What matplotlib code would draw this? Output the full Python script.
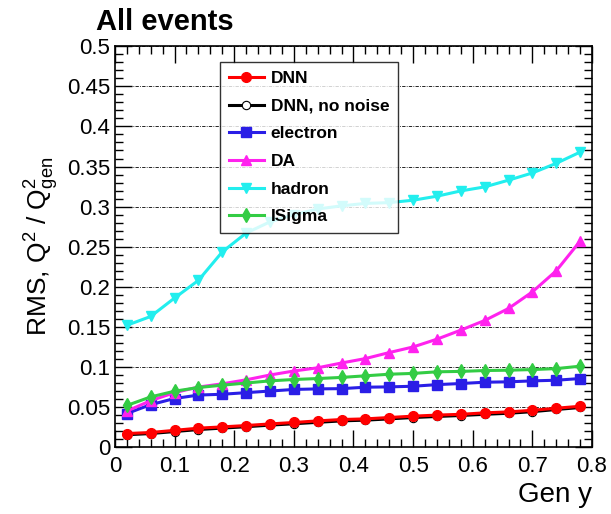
import numpy as np
import matplotlib.pyplot as plt
from matplotlib.ticker import MultipleLocator

plt.rcParams['font.family'] = ['Liberation Sans', 'DejaVu Sans']
plt.rcParams['mathtext.fontset'] = 'custom'
plt.rcParams['mathtext.rm'] = 'Liberation Sans'
plt.rcParams['mathtext.it'] = 'Liberation Sans'

gen_y = [0.02, 0.06, 0.10, 0.14, 0.18, 0.22, 0.26, 0.30, 0.34, 0.38,
         0.42, 0.46, 0.50, 0.54, 0.58, 0.62, 0.66, 0.70, 0.74, 0.78]

dnn = [0.017, 0.0183, 0.021, 0.0237, 0.0253, 0.027, 0.029, 0.0308, 0.0328, 0.0345,
       0.0353, 0.037, 0.0387, 0.040, 0.041, 0.0428, 0.044, 0.046, 0.0486, 0.051]
dnn_no_noise = [0.0155, 0.017, 0.0195, 0.022, 0.0238, 0.0255, 0.0275, 0.0292, 0.031, 0.0328,
                0.0337, 0.0353, 0.037, 0.0383, 0.0395, 0.041, 0.0423, 0.0443, 0.047, 0.0495]
electron = [0.042, 0.053, 0.0607, 0.065, 0.066, 0.068, 0.070, 0.072, 0.0727, 0.073,
            0.0748, 0.0752, 0.076, 0.078, 0.0794, 0.081, 0.0815, 0.0827, 0.0835, 0.0856]
da = [0.045, 0.058, 0.068, 0.075, 0.079, 0.084, 0.090, 0.095, 0.099, 0.105,
      0.1105, 0.118, 0.125, 0.1347, 0.146, 0.158, 0.173, 0.1937, 0.220, 0.257]
hadron = [0.152, 0.163, 0.186, 0.208, 0.2435, 0.267, 0.281, 0.290, 0.297, 0.301,
          0.304, 0.305, 0.308, 0.313, 0.3196, 0.3246, 0.333, 0.342, 0.354, 0.368]
isigma = [0.052, 0.0627, 0.0698, 0.0744, 0.0773, 0.080, 0.0827, 0.0844, 0.0856, 0.087,
          0.089, 0.091, 0.092, 0.094, 0.0945, 0.0956, 0.096, 0.0968, 0.098, 0.101]

fig = plt.figure(figsize=(6.11, 5.14), dpi=100)
ax = fig.add_axes([0.188, 0.130, 0.781, 0.780])

ax.plot(gen_y, dnn, color='red', lw=2.2, marker='o', ms=7, label='DNN', zorder=6)
ax.plot(gen_y, dnn_no_noise, color='black', lw=2.2, marker='o', ms=6, mfc='white', mec='black',
        mew=0.8, label='DNN, no noise', zorder=5)
ax.plot(gen_y, electron, color='#2a1ee6', lw=2.2, marker='s', ms=7, label='electron')
ax.plot(gen_y, da, color='#ff22ee', lw=2.2, marker='^', ms=7, label='DA')
ax.plot(gen_y, hadron, color='#22eeee', lw=2.2, marker='v', ms=7, label='hadron')
ax.plot(gen_y, isigma, color='#33cc44', lw=2.2, marker='d', ms=7, label='ISigma')

ax.set_xlim(0, 0.8)
ax.set_ylim(0, 0.5)
ax.xaxis.set_major_locator(MultipleLocator(0.1))
ax.xaxis.set_minor_locator(MultipleLocator(0.02))
ax.yaxis.set_major_locator(MultipleLocator(0.05))
ax.yaxis.set_minor_locator(MultipleLocator(0.01))
fmt = plt.FuncFormatter(lambda v, p: '0' if abs(v) < 1e-9 else f'{v:g}')
ax.xaxis.set_major_formatter(fmt)
ax.yaxis.set_major_formatter(fmt)
ax.tick_params(which='both', direction='in', top=True, right=True, labelsize=16)
ax.tick_params(which='major', length=12, width=1)
ax.tick_params(which='minor', length=6, width=1)
ax.tick_params(axis='x', pad=6)
ax.grid(axis='y', which='major', color='black', ls=(0, (4, 1.5, 1, 1.5)), lw=0.6)
for s in ax.spines.values():
    s.set_linewidth(1.2)

ax.set_ylabel('RMS, Q$^2$ / Q$^2_{gen}$', fontsize=19)
ax.set_xlabel('Gen y', fontsize=20, loc='right')
fig.text(0.157, 0.957, 'All events', fontsize=21, fontweight='bold', va='center')

leg = ax.legend(loc='upper left', bbox_to_anchor=(0.221, 0.96), frameon=True, fancybox=False,
                edgecolor='black', prop={'weight': 'bold', 'size': 12.5}, handlelength=2.0,
                borderpad=0.5, labelspacing=0.72, handletextpad=0.4, borderaxespad=0)
leg.get_frame().set_linewidth(1.0)
leg.set_zorder(10)

fig.savefig('out.png', dpi=100)
